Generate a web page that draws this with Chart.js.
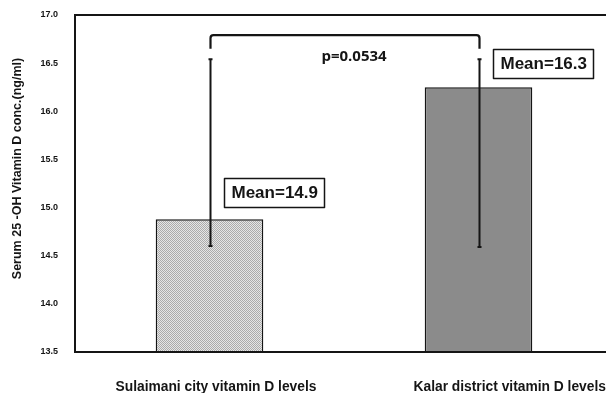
<!DOCTYPE html>
<html>
<head>
<meta charset="utf-8">
<script src="https://cdn.jsdelivr.net/npm/chart.js@4/dist/chart.umd.min.js"></script>
<style>
  html, body { margin: 0; padding: 0; background: #fff; overflow: hidden; }
  #wrap { position: absolute; left: 0; top: 0; width: 613px; height: 393px; }
</style>
</head>
<body>
<div id="wrap"><canvas id="chart" width="613" height="393"></canvas></div>
<script>
// ---------- data ----------
const categories = ["Sulaimani city vitamin D levels", "Kalar district vitamin D levels"];
const means = [14.88, 16.25];
const errLow = [14.60, 14.59];
const errHigh = [16.54, 16.54];
const meanLabels = ["Mean=14.9", "Mean=16.3"];
const meanLabelY = [15.16, 16.50];
const yTicks = [13.5, 14.0, 14.5, 15.0, 15.5, 16.0, 16.5, 17.0];
const yTitle = "Serum 25 -OH Vitamin D conc.(ng/ml)";
const pLabel = "p=0.0534";
const bracketTop = 16.79;
const bracketEnd = 16.65;

const INK = "#151515";

function makeDither() {
  const c = document.createElement("canvas");
  c.width = 2; c.height = 2;
  const g = c.getContext("2d");
  g.fillStyle = "#e6e6e6"; g.fillRect(0, 0, 2, 2);
  g.fillStyle = "#ababab"; g.fillRect(0, 0, 1, 1); g.fillRect(1, 1, 1, 1);
  return g.createPattern(c, "repeat");
}

const extras = {
  id: "extras",
  afterDatasetsDraw(chart) {
    const ctx = chart.ctx;
    const x = chart.scales.x, y = chart.scales.y;
    const a = chart.chartArea;
    ctx.save();
    ctx.strokeStyle = INK;
    ctx.fillStyle = INK;

    // frame: left, top, bottom
    ctx.lineWidth = 2;
    ctx.beginPath();
    ctx.moveTo(chart.width, a.top);
    ctx.lineTo(a.left, a.top);
    ctx.lineTo(a.left, a.bottom);
    ctx.lineTo(chart.width, a.bottom);
    ctx.stroke();

    // error bars
    ctx.lineWidth = 2;
    for (let i = 0; i < means.length; i++) {
      const cx = Math.round(x.getPixelForValue(i)) + 0.5;
      const yl = y.getPixelForValue(errLow[i]);
      const yh = y.getPixelForValue(errHigh[i]);
      ctx.beginPath();
      ctx.moveTo(cx, yl); ctx.lineTo(cx, yh);
      ctx.moveTo(cx - 2, yl); ctx.lineTo(cx + 2, yl);
      ctx.moveTo(cx - 2, yh); ctx.lineTo(cx + 2, yh);
      ctx.stroke();
    }

    // significance bracket
    const x0 = Math.round(x.getPixelForValue(0)) + 0.5;
    const x1 = Math.round(x.getPixelForValue(1)) + 0.5;
    const yt = y.getPixelForValue(bracketTop);
    const ye = y.getPixelForValue(bracketEnd);
    ctx.lineWidth = 2.2;
    ctx.lineJoin = "round";
    ctx.beginPath();
    ctx.moveTo(x0, ye);
    ctx.arcTo(x0, yt, x0 + 4, yt, 3);
    ctx.arcTo(x1, yt, x1, yt + 4, 3);
    ctx.lineTo(x1, ye);
    ctx.stroke();

    ctx.font = "bold 15px 'Open Sans'";
    ctx.textAlign = "center";
    ctx.textBaseline = "middle";
    ctx.fillText(pLabel, (x0 + x1) / 2 + 9, yt + 22);

    // mean boxes
    ctx.font = "bold 17px 'Liberation Sans'";
    ctx.textAlign = "left";
    for (let i = 0; i < meanLabels.length; i++) {
      const cx = x.getPixelForValue(i);
      const cy = y.getPixelForValue(meanLabelY[i]);
      const w = ctx.measureText(meanLabels[i]).width;
      const bx = Math.round(cx + 14) + 0.5;
      const bw = Math.round(w + 14);
      const bh = 29;
      const by = Math.round(cy - bh / 2) + 0.5;
      ctx.fillStyle = "#fff";
      ctx.fillRect(bx, by, bw, bh);
      ctx.fillStyle = INK;
      ctx.lineWidth = 1.5;
      ctx.strokeRect(bx, by, bw, bh);
      ctx.fillText(meanLabels[i], bx + 7, cy + 1);
    }

    // category labels
    ctx.font = "bold 13.8px 'Liberation Sans'";
    const shift = [-94, -65];
    for (let i = 0; i < categories.length; i++) {
      const cx = x.getPixelForValue(i);
      ctx.fillText(categories[i], cx + shift[i], a.bottom + 35);
    }

    // y axis title, sitting a little above the plot's middle
    ctx.translate(18, (a.top + a.bottom) / 2 - 15);
    ctx.rotate(-Math.PI / 2);
    ctx.textAlign = "center";
    ctx.font = "bold 12.5px 'Liberation Sans'";
    ctx.fillText(yTitle, 0, 0);
    ctx.restore();
  }
};

new Chart(document.getElementById("chart"), {
  type: "bar",
  data: {
    labels: categories,
    datasets: [{
      data: means,
      backgroundColor: [makeDither(), "#8b8b8b"],
      borderColor: INK,
      borderWidth: 1.5,
      borderSkipped: "bottom",
      barPercentage: 0.4,
      categoryPercentage: 1.0
    }]
  },
  options: {
    responsive: false,
    devicePixelRatio: 1,
    animation: false,
    layout: { padding: { top: 15, right: 0, left: 0, bottom: 0 } },
    plugins: {
      legend: { display: false },
      tooltip: { enabled: false }
    },
    scales: {
      x: {
        offset: true,
        grid: { display: false },
        border: { display: false },
        ticks: { display: false },
        afterFit(s) { s.height = 41; }
      },
      y: {
        min: 13.5,
        max: 17,
        grid: { display: false, drawTicks: false },
        border: { display: false },
        afterBuildTicks(s) { s.ticks = yTicks.map(v => ({ value: v })); },
        ticks: {
          padding: 17,
          color: INK,
          font: { family: "'Liberation Sans'", size: 9, weight: "bold" },
          callback: v => Number(v).toFixed(1)
        },
        afterFit(s) {
          s.width = 75;
          s.paddingTop = 0;
          s.paddingBottom = 0;
        }
      }
    }
  },
  plugins: [extras]
});
</script>
</body>
</html>
